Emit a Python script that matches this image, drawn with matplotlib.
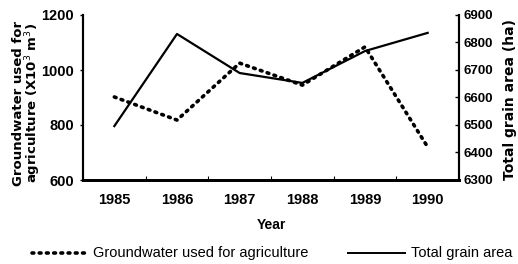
import matplotlib
matplotlib.use("Agg")
import matplotlib.pyplot as plt
from matplotlib.lines import Line2D

years = ["1985", "1986", "1987", "1988", "1989", "1990"]
groundwater = [902, 818, 1025, 945, 1084, 720]
grain_area = [6496, 6831, 6689, 6653, 6769, 6835]
left_ticks = [600, 800, 1000, 1200]
right_ticks = [6300, 6400, 6500, 6600, 6700, 6800, 6900]

W, H = 518, 264
fig = plt.figure(figsize=(W / 100, H / 100), dpi=100)
ax = fig.add_axes([83 / W, 1 - 180 / H, (459 - 83) / W, (180 - 15) / H])
ax2 = ax.twinx()

dotted = (0, (0.5, 1.5))
xs = [i + 0.5 for i in range(len(years))]
ax.plot(xs, groundwater, color="black", linestyle=dotted, linewidth=2.6,
        dash_capstyle="round")
ax2.plot(xs, grain_area, color="black", linewidth=1.6)

tick_font = dict(family=["Liberation Sans", "DejaVu Sans"], weight="bold", size=10.5)
rtick_font = dict(family=["Liberation Sans", "DejaVu Sans"], weight="bold", size=9.5)

ax.set_xlim(0, len(years))
ax.set_ylim(600, 1200)
ax.set_yticks(left_ticks)
ax.set_yticklabels([str(t) for t in left_ticks], **tick_font)
ax.set_xticks(xs)
ax.set_xticklabels(years, **tick_font)
ax.set_xticks(range(1, len(years)), minor=True)
ax.tick_params(axis="x", which="major", length=0, pad=9)
ax.tick_params(axis="x", which="minor", direction="in", length=3, width=0.8)
ax.tick_params(axis="y", direction="out", length=2.5, width=1, pad=4)

ax2.set_ylim(6300, 6900)
ax2.set_yticks(right_ticks)
ax2.set_yticklabels([str(t) for t in right_ticks], **rtick_font)
ax2.tick_params(axis="y", direction="in", length=3, width=1, pad=3)

for a in (ax, ax2):
    a.spines["top"].set_visible(False)
    a.spines["left"].set_linewidth(1.5)
    a.spines["right"].set_linewidth(1.5)
    a.spines["bottom"].set_linewidth(2.0)

fig.text(0.5 * (83 + 459) / W, 1 - 225 / H, "Year",
         family=["Liberation Sans", "DejaVu Sans"], weight="bold", size=10,
         ha="center", va="center")
fig.text(18.5 / W, 1 - 103 / H, "Groundwater used for", family="DejaVu Sans",
         weight="bold", size=9.5, rotation=90, ha="center", va="center")
fig.text(33.5 / W, 1 - 103 / H, "agriculture (X10$^3$ m$^3$)", family="DejaVu Sans",
         weight="bold", size=9.5, rotation=90, ha="center", va="center")
fig.text(510 / W, 1 - 100 / H, "Total grain area (ha)", family="DejaVu Sans",
         weight="bold", size=10, rotation=90, ha="center", va="center")

ly = 1 - 253 / H
fig.add_artist(Line2D([32 / W, 87 / W], [ly, ly], color="black", linestyle=dotted,
                      linewidth=2.6, dash_capstyle="round"))
fig.add_artist(Line2D([348 / W, 405 / W], [ly, ly], color="black", linewidth=1.4))
leg_font = dict(family=["Liberation Sans", "DejaVu Sans"], size=10.5)
fig.text(93 / W, ly, "Groundwater used for agriculture", ha="left", va="center",
         **leg_font)
fig.text(411 / W, ly, "Total grain area", ha="left", va="center", **leg_font)

fig.savefig("out.png", dpi=100)
